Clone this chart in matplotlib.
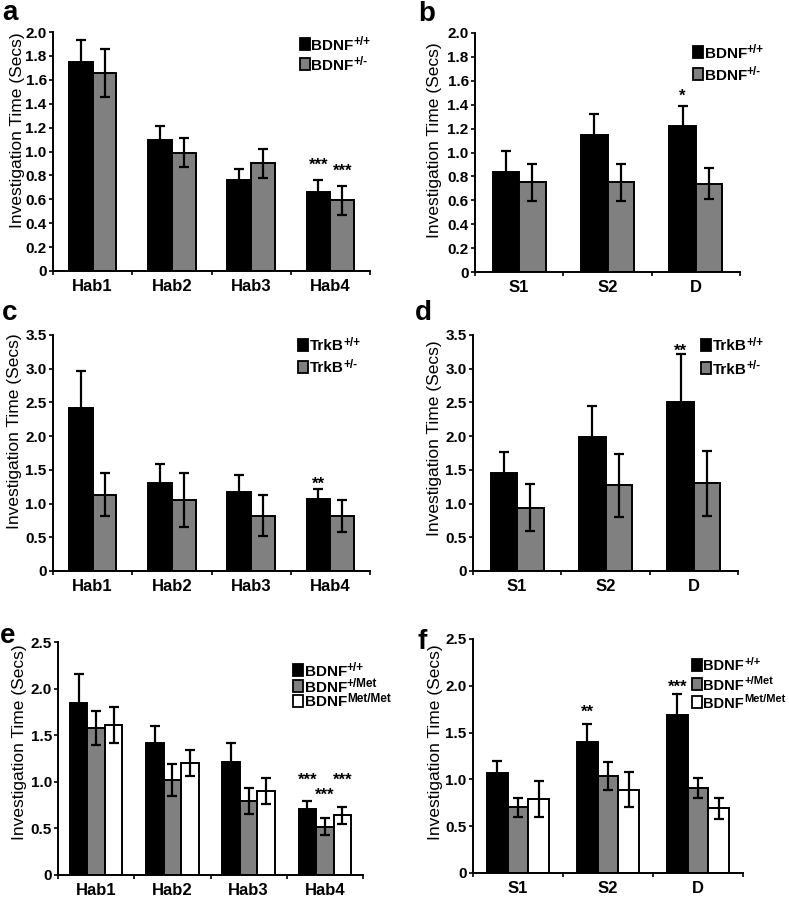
import matplotlib
matplotlib.use("Agg")
import matplotlib.pyplot as plt
from matplotlib.patches import Rectangle
import numpy as np

plt.rcParams['font.family'] = ['Liberation Sans', 'DejaVu Sans']
plt.rcParams['font.weight'] = 'bold'

# categories
hab = ['Hab1', 'Hab2', 'Hab3', 'Hab4']
sess = ['S1', 'S2', 'D']

# panel a: BDNF habituation
a_wt = [1.75, 1.10, 0.76, 0.66]
a_wt_err = [0.18, 0.11, 0.09, 0.10]
a_het = [1.66, 0.99, 0.90, 0.59]
a_het_err = [0.20, 0.12, 0.125, 0.12]

# panel b: BDNF discrimination
b_wt = [0.84, 1.15, 1.22]
b_wt_err = [0.175, 0.17, 0.17]
b_het = [0.75, 0.75, 0.74]
b_het_err = [0.155, 0.155, 0.13]

# panel c: TrkB habituation
c_wt = [2.42, 1.31, 1.17, 1.07]
c_wt_err = [0.55, 0.28, 0.26, 0.15]
c_het = [1.13, 1.05, 0.82, 0.82]
c_het_err = [0.32, 0.40, 0.30, 0.24]

# panel d: TrkB discrimination
d_wt = [1.45, 1.99, 2.50]
d_wt_err = [0.31, 0.46, 0.72]
d_het = [0.94, 1.27, 1.30]
d_het_err = [0.35, 0.47, 0.48]

# panel e: BDNF Met habituation
e_wt = [1.85, 1.42, 1.21, 0.71]
e_wt_err = [0.31, 0.18, 0.21, 0.08]
e_het = [1.58, 1.02, 0.79, 0.52]
e_het_err = [0.18, 0.17, 0.14, 0.09]
e_met = [1.61, 1.20, 0.90, 0.64]
e_met_err = [0.19, 0.14, 0.14, 0.09]

# panel f: BDNF Met discrimination
f_wt = [1.07, 1.40, 1.69]
f_wt_err = [0.13, 0.19, 0.22]
f_het = [0.70, 1.04, 0.91]
f_het_err = [0.10, 0.15, 0.11]
f_met = [0.79, 0.89, 0.69]
f_met_err = [0.19, 0.19, 0.11]

# legend labels: (name, superscript)
lab_bdnf = [('BDNF', '+/+'), ('BDNF', '+/-')]
lab_trkb = [('TrkB', '+/+'), ('TrkB', '+/-')]
lab_met = [('BDNF', '+/+'), ('BDNF', '+/Met'), ('BDNF', 'Met/Met')]

colors = ['black', '#808080', 'white']

W, H = 789, 899
fig = plt.figure(figsize=(W / 100, H / 100), dpi=100)


def px_axes(l, r, t, b):
    return fig.add_axes([l / W, 1 - b / H, (r - l) / W, (b - t) / H])


def legend(labels, xp, rows, fs=11, sfs=8.5):
    # hand-made legend: square swatch, bold name, superscript genotype
    for (name, sup), yc, col in zip(labels, rows, colors):
        fig.add_artist(Rectangle((xp / W, 1 - (yc + 5.5) / H), 10 / W, 11.5 / H,
                                 transform=fig.transFigure, facecolor=col,
                                 edgecolor='black', linewidth=1.3))
        t = fig.text((xp + 11.5) / W, 1 - (yc + 5.5) / H, name, fontsize=fs,
                     ha='left', va='baseline')
        fig.add_artist(plt.Annotation(sup, xy=(1, 1), xycoords=t,
                                      xytext=(0, 1.5), textcoords='offset points',
                                      ha='left', va='top', fontsize=sfs,
                                      fontweight='bold', annotation_clip=False))


def panel(ax, cats, series, errs, ymax, ystep, width, stars, ylab_xy):
    x = np.arange(len(cats))
    n = len(series)
    for i in range(n):
        xs = x + (i - (n - 1) / 2) * width
        ax.bar(xs, series[i], width, color=colors[i], edgecolor='black',
               linewidth=1.4, zorder=2)
        ax.errorbar(xs, series[i], yerr=errs[i], fmt='none', ecolor='black',
                    elinewidth=1.6, capsize=3.5, capthick=1.6, zorder=3)
    for (ci, si, s, yv) in stars:
        xs = ci + (si - (n - 1) / 2) * width
        ax.annotate(s, (xs, yv), xytext=(0, -4), textcoords='offset points',
                    ha='center', va='center', fontsize=12)
    ax.set_xlim(-0.5, len(cats) - 0.5)
    ax.set_ylim(0, ymax)
    ticks = np.arange(0, ymax + ystep / 2, ystep)
    ax.set_yticks(ticks)
    ax.set_yticklabels(['0'] + ['%.1f' % t for t in ticks[1:]])
    ax.set_xticks(np.arange(len(cats) + 1) - 0.5)
    ax.set_xticklabels([])
    ax.set_xticks(x, minor=True)
    ax.set_xticklabels(cats, minor=True, fontsize=12)
    ax.tick_params(axis='x', which='minor', length=0, pad=6)
    ax.tick_params(axis='x', which='major', length=3, width=1.2)
    ax.tick_params(axis='y', length=3, width=1.2, pad=1.5, labelsize=11)
    for sp in ['top', 'right']:
        ax.spines[sp].set_visible(False)
    for sp in ['left', 'bottom']:
        ax.spines[sp].set_linewidth(1.4)
    ax.set_ylabel('Investigation Time (Secs)', fontsize=12.5)
    ax.yaxis.set_label_coords(*ylab_xy)


ax = px_axes(53, 370, 32, 271)
panel(ax, hab, [a_wt, a_het], [a_wt_err, a_het_err], 2.0, 0.2, 0.3,
      [(3, 0, '***', 0.93), (3, 1, '***', 0.88)], (-0.088, 0.59))
legend(lab_bdnf, 300, [44, 64])

ax = px_axes(475, 740, 33, 272)
panel(ax, sess, [b_wt, b_het], [b_wt_err, b_het_err], 2.0, 0.2, 0.3,
      [(2, 0, '*', 1.52)], (-0.125, 0.55))
legend(lab_bdnf, 693, [52, 74])

ax = px_axes(53, 370, 335, 571)
panel(ax, hab, [c_wt, c_het], [c_wt_err, c_het_err], 3.5, 0.5, 0.3,
      [(3, 0, '**', 1.37)], (-0.098, 0.593))
legend(lab_trkb, 298, [345, 367])

ax = px_axes(473, 738, 335, 571)
panel(ax, sess, [d_wt, d_het], [d_wt_err, d_het_err], 3.5, 0.5, 0.3,
      [(2, 0, '**', 3.34)], (-0.117, 0.564))
legend(lab_trkb, 701, [345, 368])

ax = px_axes(58, 363, 642, 875)
panel(ax, hab, [e_wt, e_het, e_met], [e_wt_err, e_het_err, e_met_err],
      2.5, 0.5, 0.23,
      [(3, 0, '***', 1.08), (3, 2, '***', 1.08), (3, 1, '***', 0.92)],
      (-0.10, 0.57))
legend(lab_met, 293, [670, 686, 701])

ax = px_axes(473, 743, 639, 873)
panel(ax, sess, [f_wt, f_het, f_met], [f_wt_err, f_het_err, f_met_err],
      2.5, 0.5, 0.23,
      [(1, 0, '**', 1.775), (2, 0, '***', 2.04)], (-0.111, 0.56))
legend(lab_met, 692, [665, 684, 702], fs=10.5, sfs=8)

for s, xp, yp in [('a', 2, 20), ('b', 418, 21), ('c', 2, 320),
                  ('d', 415, 320), ('e', 0, 643), ('f', 418, 649)]:
    fig.text(xp / W, 1 - yp / H, s, fontsize=20, fontweight='bold',
             ha='left', va='baseline')

fig.savefig('out.png', dpi=100)
